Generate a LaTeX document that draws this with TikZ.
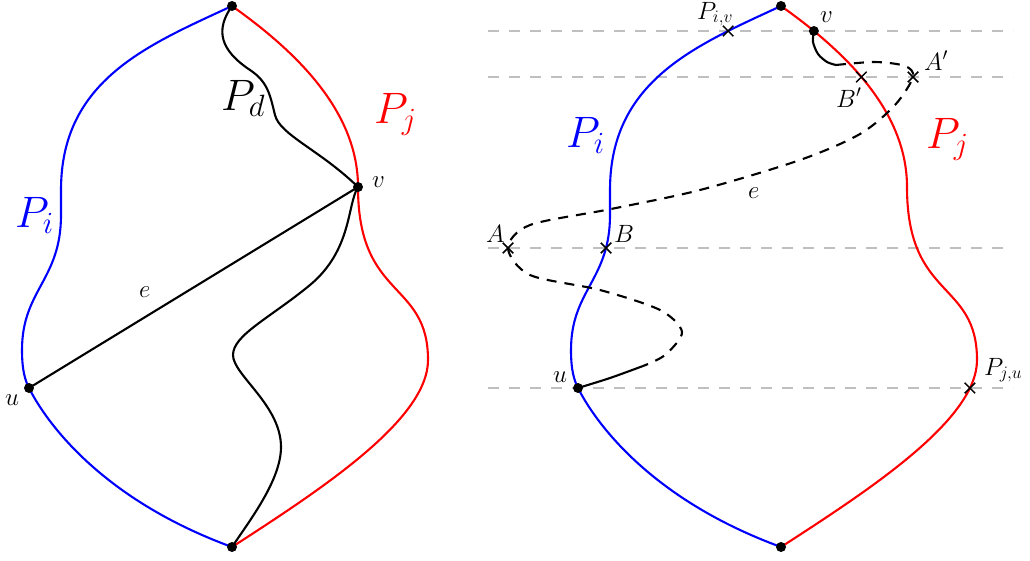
\RequirePackage{fix-cm}
\documentclass[tikz,border=0pt]{standalone}
\usetikzlibrary{shapes.misc,intersections}
\tikzset{
  curve/.style={line width=2.1pt},
  bluep/.style={curve, draw=blue},
  redp/.style={curve, draw=red},
  blk/.style={line width=2.1pt, draw=black},
  dashpat/.style={dash pattern=on 10pt off 8pt},
  dot/.style={circle, fill=black, inner sep=0pt, minimum size=10pt},
  xmark/.style={cross out, draw=black, line width=1.5pt, inner sep=0pt, minimum size=9pt},
  gridline/.style={draw=black!25, line width=2pt, dash pattern=on 10.5pt off 10.5pt},
  lab/.style={font=\fontsize{25}{30}\selectfont, inner sep=0pt, anchor=base west},
  biglab/.style={font=\fontsize{44}{52}\selectfont, inner sep=0pt, anchor=base west},
}
\begin{document}
\begin{tikzpicture}[x=1pt,y=-1pt]
\useasboundingbox (0,0) rectangle (1030,560);

% horizontal reference lines (right figure)
\coordinate (h1a) at (488,31);  \coordinate (h1b) at (1013,31);
\coordinate (h2a) at (488,77);  \coordinate (h2b) at (1013,77);
\coordinate (h3a) at (488,248); \coordinate (h3b) at (1013,248);
\coordinate (h4a) at (488,388); \coordinate (h4b) at (1013,388);
\draw[gridline, name path global=h1] (h1a) -- (h1b);
\draw[gridline, name path global=h2] (h2a) -- (h2b);
\draw[gridline, name path global=h3] (h3a) -- (h3b);
\draw[gridline, name path global=h4] (h4a) -- (h4b);

% ---------------- left figure ----------------
\coordinate (T1) at (232,6);
\coordinate (B1) at (232,547);
\coordinate (u1) at (29,388);
\coordinate (v1) at (358,187);

\draw[bluep] (T1) .. controls (148,45) and (61,80) .. (61,190) -- (61,215)
  .. controls (61,280) and (22,290) .. (22,350)
  .. controls (22,370) and (25,380) .. (u1)
  .. controls (40,410) and (90,495) .. (B1);
\draw[redp] (T1) .. controls (294,50) and (358,110) .. (v1)
  .. controls (358,300) and (428,280) .. (428,360)
  .. controls (428,420) and (320,490) .. (B1);
% P_d
\draw[blk] (T1) .. controls (215,30) and (220,50) .. (250,70)
  .. controls (268,82) and (270,95) .. (275,115)
  .. controls (280,135) and (320,150) .. (v1);
% second path from v down
\draw[blk] (v1) .. controls (347,205) and (352,250) .. (310,285)
  .. controls (270,318) and (233,335) .. (233,355)
  .. controls (233,375) and (281,405) .. (281,447)
  .. controls (281,480) and (250,520) .. (B1);
% edge e
\draw[blk] (u1) -- (v1);

\node[dot] (dT1) at (T1) {};
\node[dot] (dB1) at (B1) {};
\node[dot] (du1) at (u1) {};
\node[dot] (dv1) at (v1) {};

\node[biglab] (lPd) at (221,110) {$P_d$};
\node[biglab, text=red] (lPj1) at (374,123) {$P_j$};
\node[biglab, text=blue] (lPi1) at (15,227) {$P_i$};
\node[lab] (lv1) at (372,187) {$v$};
\node[lab] (lu1) at (5,405) {$u$};
\node[lab] (le1) at (139,297) {$e$};

% ---------------- right figure ----------------
\begin{scope}[xshift=549pt]
\coordinate (T2) at (232,6);
\coordinate (B2) at (232,547);
\coordinate (u2) at (29,388);
\draw[bluep, name path global=blueR] (T2) .. controls (148,45) and (61,80) .. (61,190) -- (61,215)
  .. controls (61,280) and (22,290) .. (22,350)
  .. controls (22,370) and (25,380) .. (u2)
  .. controls (40,410) and (90,495) .. (B2);
\draw[redp, name path global=redR] (T2) .. controls (294,50) and (358,110) .. (358,187)
  .. controls (358,300) and (428,280) .. (428,360)
  .. controls (428,420) and (320,490) .. (B2);
\end{scope}

\path[name intersections={of=redR and h1, by=v2}];
\path[name intersections={of=blueR and h1, by=Piv}];
\path[name intersections={of=redR and h2, by=Bp}];
\path[name intersections={of=blueR and h3, by=Bq}];
\path[name intersections={of=redR and h4, by=Pju}];
\coordinate (Ap) at (913,77);
\coordinate (Aq) at (508,248);
\coordinate (e1) at (836,65);
\coordinate (e2) at (643,366);

\draw[blk] plot[smooth] coordinates {(v2) (813,42) (818,54) (827,62) (e1)};
\draw[blk, dashpat] plot[smooth] coordinates {(e1) (875,62) (905,66) (Ap) (895,105)
  (860,134) (800,160) (700,190) (611,209) (530,225) (Aq) (530,275) (600,290)
  (660,310) (682,332) (665,355) (e2)};
\draw[blk] plot[smooth] coordinates {(e2) (610,378) (u2)};

\node[xmark] (xPiv) at (Piv) {};
\node[xmark] (xBp) at (Bp) {};
\node[xmark] (xAp) at (Ap) {};
\node[xmark] (xA) at (Aq) {};
\node[xmark] (xB) at (Bq) {};
\node[xmark] (xPju) at (Pju) {};

\node[dot] (dT2) at (T2) {};
\node[dot] (dB2) at (B2) {};
\node[dot] (du2) at (u2) {};
\node[dot] (dv2) at (v2) {};

\node[lab] (lPiv) at (697,19) {$P_{i,v}$};
\node[lab] (lv2) at (820,22) {$v$};
\node[lab] (lAp) at (924,70) {$A'$};
\node[lab] (lBp) at (836,107) {$B'$};
\node[lab] (le2) at (748,198) {$e$};
\node[lab] (lA) at (486,242) {$A$};
\node[lab] (lB) at (614,242) {$B$};
\node[lab] (lu2) at (553,382) {$u$};
\node[lab] (lPju) at (984,375) {$P_{j,u}$};
\node[biglab, text=blue] (lPi2) at (566,147) {$P_i$};
\node[biglab, text=red] (lPj2) at (926,148) {$P_j$};
\end{tikzpicture}
\end{document}
